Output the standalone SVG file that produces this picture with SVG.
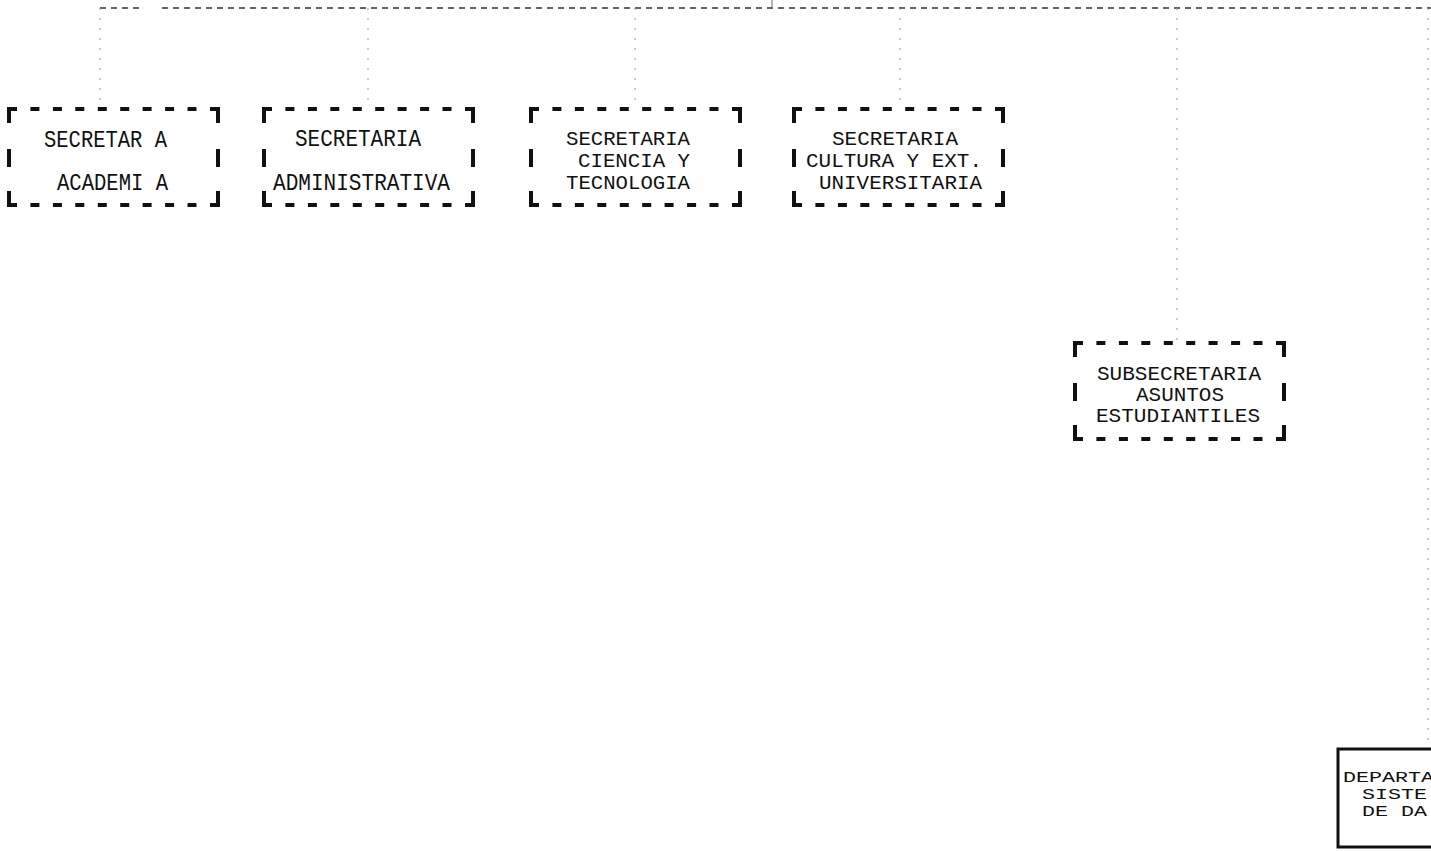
<svg xmlns="http://www.w3.org/2000/svg" xmlns:xlink="http://www.w3.org/1999/xlink" width="1431" height="851" viewBox="0 0 1431 851">
<style>
.bg{fill:#ffffff}
.dbox{fill:none;stroke:#111;stroke-width:4;stroke-linecap:butt}
.sbox{fill:#fff;stroke:#111;stroke-width:3}
.t{font-family:"Liberation Mono","DejaVu Sans Mono",monospace;font-size:23px;fill:#111}
.t3{font-family:"Liberation Mono","DejaVu Sans Mono",monospace;font-size:20px;fill:#111}
.ts{font-family:"Liberation Mono","DejaVu Sans Mono",monospace;font-size:15px;fill:#111}
.hline{fill:none;stroke:#333;stroke-width:1.5;stroke-dasharray:6 5}
.vline{fill:none;stroke:#999;stroke-width:1;stroke-dasharray:2 8}
.tick{fill:none;stroke:#666;stroke-width:1}
</style>
<defs>
<path id="dbox" class="dbox" d="M2,16 V2 H10 M203,2 H211 V16 M2,84 V98 H10 M203,98 H211 V84 M2,42 V60 M211,42 V60 M23.4,2 h9 M45.9,2 h9 M68.3,2 h9 M90.8,2 h9 M113.2,2 h9 M135.6,2 h9 M158.1,2 h9 M180.5,2 h9 M23.4,98 h9 M45.9,98 h9 M68.3,98 h9 M90.8,98 h9 M113.2,98 h9 M135.6,98 h9 M158.1,98 h9 M180.5,98 h9"/>
</defs>
<rect class="bg" x="0" y="0" width="1431" height="851"/>
<g id="connectors">
<path class="hline" d="M100,8 H142 M162,8 H1431"/>
<path class="tick" d="M772,0 V8"/>
<path class="vline" d="M100,8 V102"/>
<path class="vline" d="M368,8 V105"/>
<path class="vline" d="M635,8 V105"/>
<path class="vline" d="M900,8 V105"/>
<path class="vline" d="M1177,8 V340"/>
<path class="vline" d="M1428,8 V748"/>
</g>
<g id="secretaria-academica">
<use xlink:href="#dbox" href="#dbox" x="7" y="107"/>
<text class="t" x="44" y="147" textLength="123" lengthAdjust="spacingAndGlyphs">SECRETAR A</text>
<text class="t" x="57" y="190" textLength="111" lengthAdjust="spacingAndGlyphs">ACADEMI A</text>
</g>
<g id="secretaria-administrativa">
<use xlink:href="#dbox" href="#dbox" x="262" y="107"/>
<text class="t" x="295" y="146" textLength="126" lengthAdjust="spacingAndGlyphs">SECRETARIA</text>
<text class="t" x="273" y="190" textLength="177" lengthAdjust="spacingAndGlyphs">ADMINISTRATIVA</text>
</g>
<g id="secretaria-ciencia">
<use xlink:href="#dbox" href="#dbox" x="529" y="107"/>
<text class="t3" x="566" y="145" textLength="124" lengthAdjust="spacingAndGlyphs">SECRETARIA</text>
<text class="t3" x="578" y="167" textLength="112" lengthAdjust="spacingAndGlyphs">CIENCIA Y</text>
<text class="t3" x="566" y="189" textLength="124" lengthAdjust="spacingAndGlyphs">TECNOLOGIA</text>
</g>
<g id="secretaria-cultura">
<use xlink:href="#dbox" href="#dbox" x="792" y="107"/>
<text class="t3" x="832" y="145" textLength="126" lengthAdjust="spacingAndGlyphs">SECRETARIA</text>
<text class="t3" x="806" y="167" textLength="176" lengthAdjust="spacingAndGlyphs">CULTURA Y EXT.</text>
<text class="t3" x="819" y="189" textLength="163" lengthAdjust="spacingAndGlyphs">UNIVERSITARIA</text>
</g>
<g id="subsecretaria-asuntos">
<use xlink:href="#dbox" href="#dbox" x="1073" y="341"/>
<text class="t3" x="1097" y="380" textLength="164" lengthAdjust="spacingAndGlyphs">SUBSECRETARIA</text>
<text class="t3" x="1136" y="401" textLength="88" lengthAdjust="spacingAndGlyphs">ASUNTOS</text>
<text class="t3" x="1096" y="422" textLength="164" lengthAdjust="spacingAndGlyphs">ESTUDIANTILES</text>
</g>
<g id="departamento">
<rect class="sbox" x="1338" y="749" width="120" height="98"/>
<text class="ts" x="1343" y="782" textLength="91" lengthAdjust="spacingAndGlyphs">DEPARTA</text>
<text class="ts" x="1362" y="799" textLength="65" lengthAdjust="spacingAndGlyphs">SISTE</text>
<text class="ts" x="1362" y="816" textLength="65" lengthAdjust="spacingAndGlyphs">DE DA</text>
</g>
</svg>
